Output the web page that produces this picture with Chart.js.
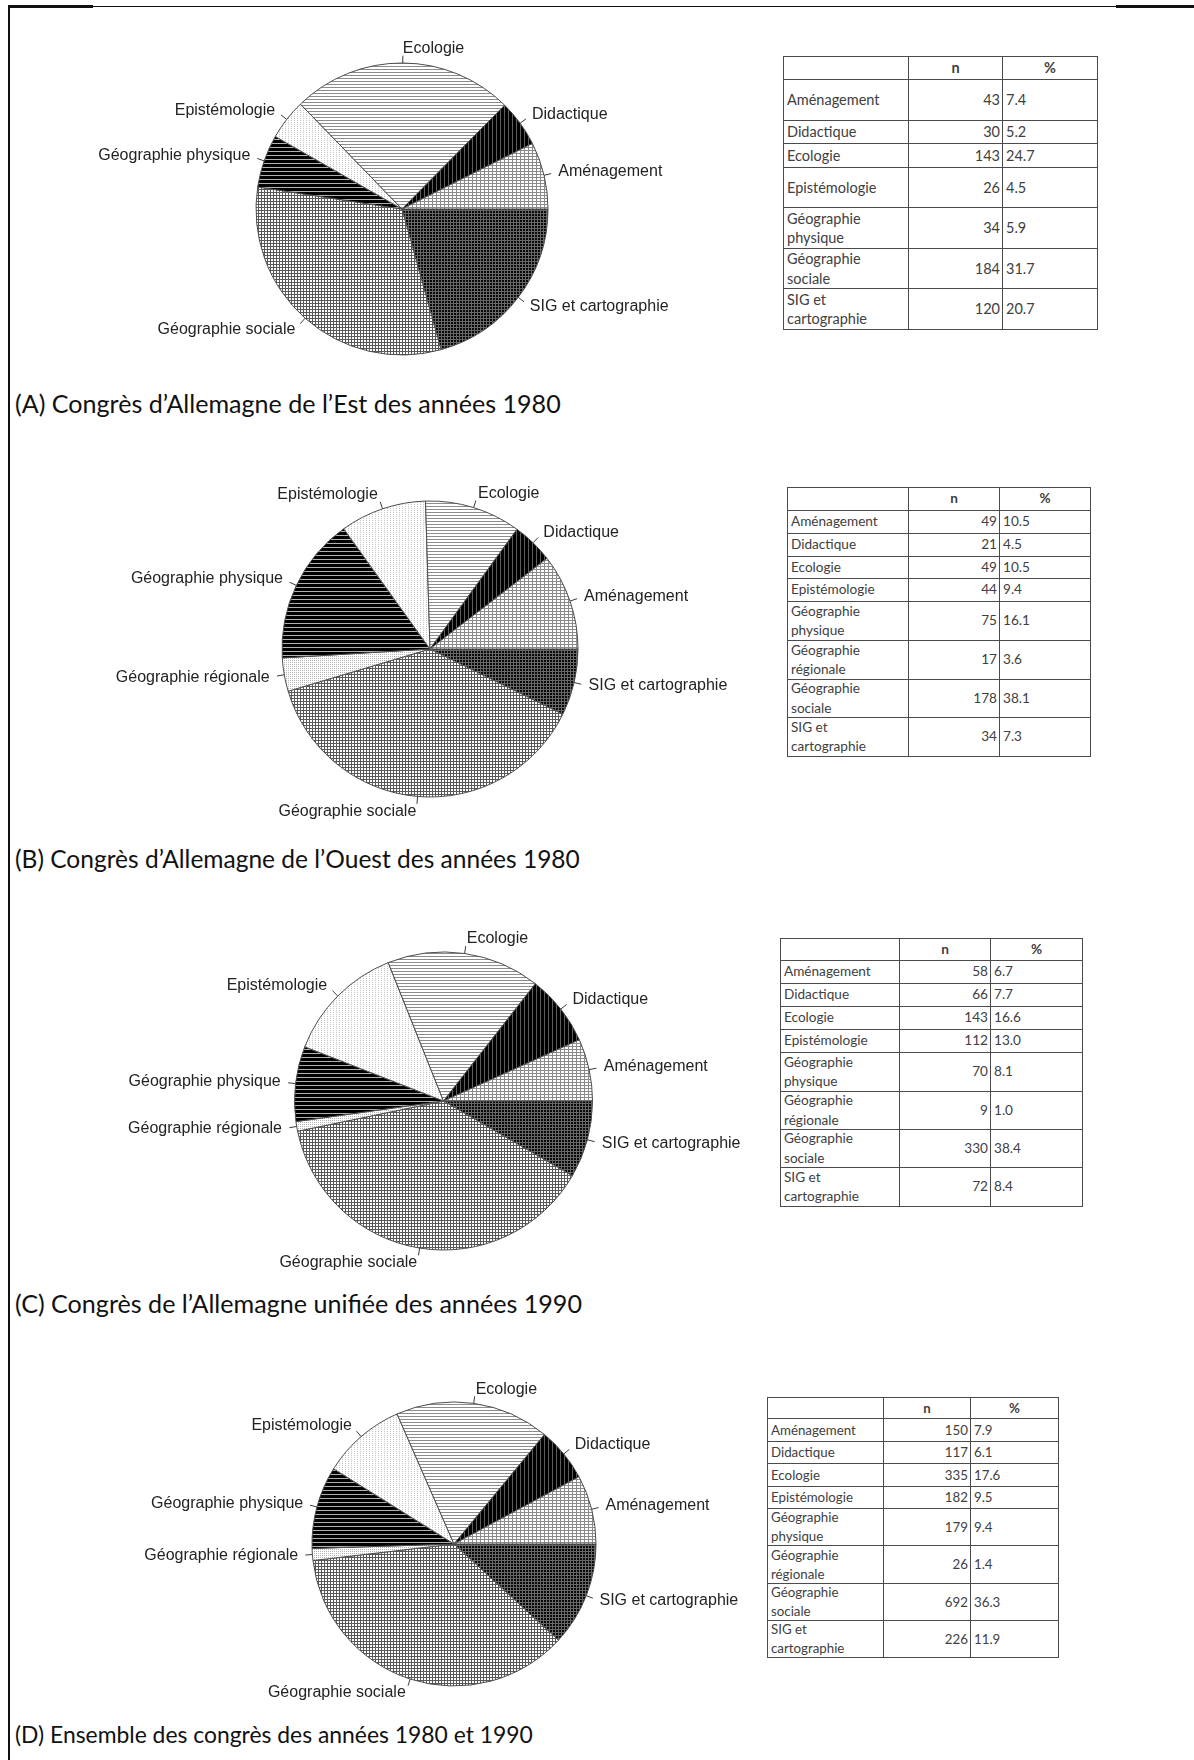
<!DOCTYPE html>
<html lang="fr">
<head>
<meta charset="utf-8">
<title>Congrès de géographie</title>
<script src="https://cdn.jsdelivr.net/npm/chart.js@4.4.1/dist/chart.umd.min.js"></script>
<style>
  html, body { margin:0; padding:0; background:#fff; }
  #page { position:relative; width:1194px; height:1760px; overflow:hidden; background:#fff; }
  .line { position:absolute; background:#111; }
  .pie { position:absolute; left:0; }
  .title { position:absolute; left:15px; white-space:nowrap; font-family:Lato, "Open Sans", sans-serif; color:#111; line-height:1; }
  .tbl { position:absolute; font-family:Lato, "Open Sans", sans-serif; color:#404040; }
  .hl { position:absolute; height:1px; background:#4a4a4a; }
  .vl { position:absolute; width:1px; background:#4a4a4a; }
  .cell { position:absolute; display:flex; align-items:center; box-sizing:border-box; white-space:pre-line; }
</style>
</head>
<body>
<div id="page"></div>
<script>
// ------------------------------------------------------------------ data
const categoriesA = ["Aménagement", "Didactique", "Ecologie", "Epistémologie",
  "Géographie physique", "Géographie sociale", "SIG et cartographie"];
const tableLabelsA = ["Aménagement", "Didactique", "Ecologie", "Epistémologie",
  "Géographie\nphysique", "Géographie\nsociale", "SIG et\ncartographie"];
const countsA = [43, 30, 143, 26, 34, 184, 120];
const percentA = ["7.4", "5.2", "24.7", "4.5", "5.9", "31.7", "20.7"];

const categoriesBCD = ["Aménagement", "Didactique", "Ecologie", "Epistémologie",
  "Géographie physique", "Géographie régionale", "Géographie sociale", "SIG et cartographie"];
const tableLabelsBCD = ["Aménagement", "Didactique", "Ecologie", "Epistémologie",
  "Géographie\nphysique", "Géographie\nrégionale", "Géographie\nsociale", "SIG et\ncartographie"];

const countsB = [49, 21, 49, 44, 75, 17, 178, 34];
const percentB = ["10.5", "4.5", "10.5", "9.4", "16.1", "3.6", "38.1", "7.3"];

const countsC = [58, 66, 143, 112, 70, 9, 330, 72];
const percentC = ["6.7", "7.7", "16.6", "13.0", "8.1", "1.0", "38.4", "8.4"];

const countsD = [150, 117, 335, 182, 179, 26, 692, 226];
const percentD = ["7.9", "6.1", "17.6", "9.5", "9.4", "1.4", "36.3", "11.9"];

const tableHeader = ["", "n", "%"];

const panelTitles = [
  "(A) Congrès d’Allemagne de l’Est des années 1980",
  "(B) Congrès d’Allemagne de l’Ouest des années 1980",
  "(C) Congrès de l’Allemagne unifiée des années 1990",
  "(D) Ensemble des congrès des années 1980 et 1990"
];

// ------------------------------------------------------------------ layout (positions / sizes only)
const pieGeom = [
  { top: 0,    cx: 402,   cy: 209,  r: 146 },
  { top: 440,  cx: 430,   cy: 649,  r: 148 },
  { top: 890,  cx: 443.5, cy: 1101, r: 149 },
  { top: 1335, cx: 454,   cy: 1544, r: 142 }
];
const tableGeom = [
  { left: 783, top: 56,   cols: [125, 94, 95], rows: [23, 41, 23, 24, 40, 41, 40, 41],     font: 14.5, lh: 19.5 },
  { left: 787, top: 487,  cols: [121, 91, 91], rows: [23, 23, 23, 22, 23, 39, 39, 38, 39], font: 13.6, lh: 19.5 },
  { left: 780, top: 938,  cols: [119, 91, 92], rows: [22, 23, 23, 23, 23, 39, 38, 38, 39], font: 13.6, lh: 19.5 },
  { left: 767, top: 1397, cols: [116, 87, 88], rows: [21, 23, 22, 23, 22, 37, 38, 37, 37], font: 13.3, lh: 19 }
];
const titleCenterY = [404, 860, 1304, 1735];
const titleTargetW = [546, 565, 567, 518];

// ------------------------------------------------------------------ frame
const page = document.getElementById('page');
function addLine(l, t, w, h) {
  const d = document.createElement('div');
  d.className = 'line';
  Object.assign(d.style, { left: l + 'px', top: t + 'px', width: w + 'px', height: h + 'px' });
  page.appendChild(d);
}
addLine(8, 5, 2, 1755);
addLine(8, 6, 1186, 1);
addLine(8, 5, 85, 3);
addLine(1116, 5, 78, 3);

// ------------------------------------------------------------------ patterns
function tile(w, h, bg, draw) {
  const c = document.createElement('canvas');
  c.width = w; c.height = h;
  const g = c.getContext('2d');
  g.fillStyle = bg; g.fillRect(0, 0, w, h);
  draw(g);
  return g.createPattern(c, 'repeat');
}
const patterns = {
  "Aménagement": tile(4, 3, '#ffffff', g => { g.fillStyle = '#8a8a8a'; g.fillRect(0, 0, 4, 1); g.fillRect(0, 0, 1, 3); }),
  "Didactique": tile(4, 1, '#000000', g => { g.fillStyle = '#5e5e5e'; g.fillRect(0, 0, 1, 1); }),
  "Ecologie": tile(1, 3, '#ffffff', g => { g.fillStyle = '#8c8c8c'; g.fillRect(0, 0, 1, 1); }),
  "Epistémologie": tile(3, 2, '#ffffff', g => { g.fillStyle = '#c4c4c4'; g.fillRect(0, 0, 1, 1); }),
  "Géographie physique": tile(1, 4, '#000000', g => { g.fillStyle = '#b0b0b0'; g.fillRect(0, 3, 1, 1); }),
  "Géographie régionale": tile(2, 2, '#ffffff', g => { g.fillStyle = '#b4b4b4'; g.fillRect(0, 0, 1, 1); }),
  "Géographie sociale": tile(3, 3, '#ffffff', g => { g.fillStyle = '#585858'; g.fillRect(0, 0, 3, 1); g.fillRect(0, 0, 1, 3); }),
  "SIG et cartographie": tile(3, 3, '#080808', g => { g.fillStyle = '#686868'; g.fillRect(0, 0, 3, 1); g.fillRect(0, 0, 1, 3); })
};

// ------------------------------------------------------------------ pie label plugin (R style: labels at 1.1 r, ticks 1 -> 1.05 r)
const pieLabels = {
  id: 'pieLabels',
  afterDatasetsDraw(chart) {
    const ctx = chart.ctx;
    const meta = chart.getDatasetMeta(0);
    ctx.save();
    ctx.font = '16px "Liberation Sans", Arial, sans-serif';
    ctx.textBaseline = 'middle';
    meta.data.forEach((arc, i) => {
      const p = arc.getProps(['x', 'y', 'startAngle', 'endAngle', 'outerRadius'], true);
      const a = (p.startAngle + p.endAngle) / 2;
      const c = Math.cos(a), s = Math.sin(a), r = p.outerRadius;
      ctx.strokeStyle = '#3a3a3a';
      ctx.lineWidth = 1;
      ctx.beginPath();
      ctx.moveTo(p.x + r * c, p.y + r * s);
      ctx.lineTo(p.x + 1.05 * r * c, p.y + 1.05 * r * s);
      ctx.stroke();
      ctx.fillStyle = '#232323';
      ctx.textAlign = c < 0 ? 'right' : 'left';
      ctx.fillText(chart.data.labels[i], p.x + 1.1 * r * c, p.y + 1.1 * r * s);
    });
    ctx.restore();
  }
};

function makePie(cats, counts, geom) {
  const W = 760, H = 420;
  const canvas = document.createElement('canvas');
  canvas.width = W; canvas.height = H;
  canvas.className = 'pie';
  canvas.style.top = geom.top + 'px';
  canvas.style.width = W + 'px'; canvas.style.height = H + 'px';
  page.appendChild(canvas);
  const cx = geom.cx, cy = geom.cy - geom.top;
  const padding = {
    left: Math.max(0, 2 * cx - W), right: Math.max(0, W - 2 * cx),
    top: Math.max(0, 2 * cy - H), bottom: Math.max(0, H - 2 * cy)
  };
  // R draws counter-clockwise from 3 o'clock; Chart.js goes clockwise -> reverse order, start at 90°
  const labels = cats.slice().reverse();
  const data = counts.slice().reverse();
  new Chart(canvas, {
    type: 'pie',
    data: {
      labels: labels,
      datasets: [{
        data: data,
        backgroundColor: labels.map(l => patterns[l]),
        borderColor: '#4d4d4d',
        borderWidth: 1,
        rotation: 90,
        radius: geom.r
      }]
    },
    options: {
      responsive: false,
      animation: false,
      devicePixelRatio: 1,
      rotation: 90,
      radius: geom.r,
      layout: { padding: padding },
      events: [],
      plugins: { legend: { display: false }, tooltip: { enabled: false }, title: { display: false } }
    },
    plugins: [pieLabels]
  });
}

// ------------------------------------------------------------------ tables (built from the data arrays)
function makeTable(labels, counts, percents, geom) {
  const box = document.createElement('div');
  box.className = 'tbl';
  const totalW = geom.cols.reduce((a, b) => a + b, 0);
  const totalH = geom.rows.reduce((a, b) => a + b, 0);
  Object.assign(box.style, { left: geom.left + 'px', top: geom.top + 'px', width: totalW + 1 + 'px', height: totalH + 1 + 'px', fontSize: geom.font + 'px' });
  page.appendChild(box);
  const xs = [0]; geom.cols.forEach(w => xs.push(xs[xs.length - 1] + w));
  const ys = [0]; geom.rows.forEach(h => ys.push(ys[ys.length - 1] + h));
  ys.forEach(y => { const d = document.createElement('div'); d.className = 'hl'; Object.assign(d.style, { left: '0px', top: y + 'px', width: totalW + 1 + 'px' }); box.appendChild(d); });
  xs.forEach(x => { const d = document.createElement('div'); d.className = 'vl'; Object.assign(d.style, { left: x + 'px', top: '0px', height: totalH + 1 + 'px' }); box.appendChild(d); });
  function cell(row, col, text, align, bold) {
    const c = document.createElement('div');
    c.className = 'cell';
    Object.assign(c.style, {
      left: xs[col] + 1 + 'px', top: ys[row] + 1 + 'px',
      width: (xs[col + 1] - xs[col] - 1) + 'px', height: (ys[row + 1] - ys[row] - 1) + 'px',
      lineHeight: geom.lh + 'px',
      justifyContent: align === 'l' ? 'flex-start' : (align === 'r' ? 'flex-end' : 'center'),
      paddingLeft: align === 'l' ? '3px' : '0', paddingRight: align === 'r' ? '2px' : '0',
      fontWeight: bold ? '700' : '400'
    });
    c.textContent = text;
    box.appendChild(c);
  }
  tableHeader.forEach((h, j) => cell(0, j, h, 'c', true));
  labels.forEach((lab, i) => {
    cell(i + 1, 0, lab, 'l');
    cell(i + 1, 1, String(counts[i]), 'r');
    cell(i + 1, 2, percents[i], 'l');
  });
}

// ------------------------------------------------------------------ titles
function measure(text, px) {
  const g = document.createElement('canvas').getContext('2d');
  g.font = px + 'px Lato';
  return g.measureText(text).width;
}
panelTitles.forEach((t, i) => {
  const fs = 100 * titleTargetW[i] / measure(t, 100);
  const d = document.createElement('div');
  d.className = 'title';
  d.style.fontSize = fs.toFixed(2) + 'px';
  d.style.top = (titleCenterY[i] - fs * 0.52) + 'px';
  d.textContent = t;
  page.appendChild(d);
});

// ------------------------------------------------------------------ build
makePie(categoriesA, countsA, pieGeom[0]);
makePie(categoriesBCD, countsB, pieGeom[1]);
makePie(categoriesBCD, countsC, pieGeom[2]);
makePie(categoriesBCD, countsD, pieGeom[3]);
makeTable(tableLabelsA, countsA, percentA, tableGeom[0]);
makeTable(tableLabelsBCD, countsB, percentB, tableGeom[1]);
makeTable(tableLabelsBCD, countsC, percentC, tableGeom[2]);
makeTable(tableLabelsBCD, countsD, percentD, tableGeom[3]);
</script>
</body>
</html>
